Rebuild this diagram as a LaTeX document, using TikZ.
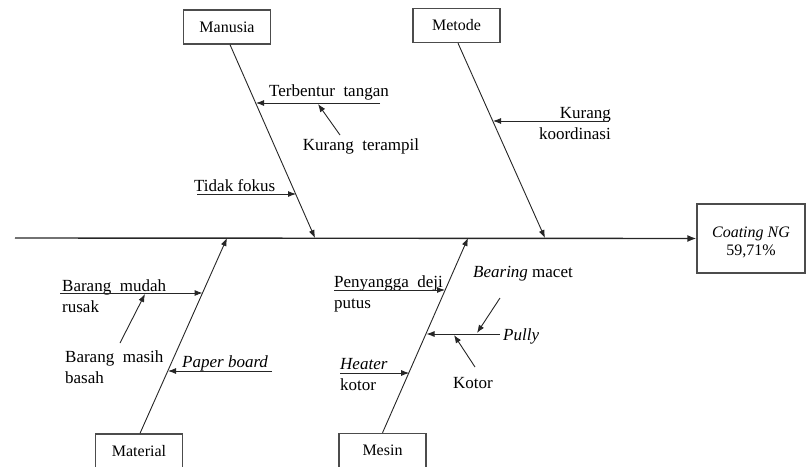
\documentclass[tikz,border=0pt]{standalone}
\usepackage{fontspec}
\setmainfont{Liberation Serif}
\usetikzlibrary{arrows.meta}

\begin{document}
\begin{tikzpicture}[x=1pt,y=-1pt,
  catbox/.style={draw=black!70, line width=1.3pt, minimum width=87pt,
    minimum height=34pt, inner sep=0pt, font=\fontsize{16}{18}\selectfont},
  spine/.style={line width=1.4pt, black!85, -{Latex[length=9pt,width=7pt]}},
  bone/.style={line width=0.9pt, black!85, -{Latex[length=8pt,width=6pt]}},
  cause/.style={line width=0.9pt, black!85, -{Latex[length=8pt,width=6pt]}},
  lbl/.style={inner sep=0pt, font=\fontsize{17}{21}\selectfont}]
\useasboundingbox (0,0) rectangle (806,466);

% category boxes and the effect box
\node[catbox] (manusia)  at (227,27)    {Manusia};
\node[catbox] (metode)   at (456.5,25.5) {Metode};
\node[catbox] (material) at (139,451)   {Material};
\node[catbox] (mesin)    at (382.5,450.5) {Mesin};
\node[catbox, minimum width=108pt, minimum height=69pt] (effect) at (751,238.5)
  {\raisebox{-9pt}[0pt][0pt]{\begin{tabular}{@{}c@{}}\textit{Coating NG}\\59,71\%\end{tabular}}};

% main spine
\coordinate (tail) at (15,238);
\draw[spine] (tail) -- (effect.west);

% bone ends on the spine
\coordinate (mtip) at (315,238);
\coordinate (ttip) at (545,238);
\coordinate (atip) at (227,238);
\coordinate (stip) at (468,238);

\draw[bone] ([xshift=3pt]manusia.south) -- (mtip);
\draw[bone] ([xshift=1.5pt]metode.south) -- (ttip);
\draw[bone] ([xshift=1pt]material.north) -- (atip);
\draw[bone] (mesin.north) -- (stip);

% cause labels
\node[lbl, anchor=base] (terbentur) at (329,96) {Terbentur\ \ tangan};
\node[lbl, anchor=base] (terampil) at (361,150) {Kurang\ \ terampil};
\node[lbl, anchor=base west] (fokus) at (194,191) {Tidak fokus};
\node[lbl, anchor=base east] (koord) at (611,118)
  {\begin{tabular}[t]{@{}r@{}}Kurang\\koordinasi\end{tabular}};
\node[lbl, anchor=base west] (mudah) at (62,291)
  {\begin{tabular}[t]{@{}l@{}}Barang\ \ mudah\\rusak\end{tabular}};
\node[lbl, anchor=base west] (masih) at (65,362)
  {\begin{tabular}[t]{@{}l@{}}Barang\ \ masih\\basah\end{tabular}};
\node[lbl, anchor=base west] (paper) at (182,367) {\textit{Paper board}};
\node[lbl, anchor=base west] (penyangga) at (334,287)
  {\begin{tabular}[t]{@{}l@{}}Penyangga\ \ deji\\putus\end{tabular}};
\node[lbl, anchor=base west] (bearing) at (473,277) {\textit{Bearing} macet};
\node[lbl, anchor=base west] (pully) at (503,340) {\textit{Pully}};
\node[lbl, anchor=base] (kotor) at (473,388) {Kotor};
\node[lbl, anchor=base west] (heater) at (340,369)
  {\begin{tabular}[t]{@{}l@{}}\textit{Heater}\\kotor\end{tabular}};

% arrow ends
\coordinate (a1s) at (380,103);   \coordinate (a1e) at (256,103);
\coordinate (a1bs) at (340,135);  \coordinate (a1be) at (318,104);
\coordinate (a2s) at (197,194);   \coordinate (a2e) at (296,194);
\coordinate (a3s) at (609,121);   \coordinate (a3e) at (493,121);
\coordinate (a4s) at (60,293);    \coordinate (a4e) at (202.6,293);
\coordinate (a4bs) at (120,343);  \coordinate (a4be) at (145,294);
\coordinate (a5s) at (272,371);   \coordinate (a5e) at (168,371);
\coordinate (a6s) at (334,290);   \coordinate (a6e) at (445,290);
\coordinate (a7s) at (500,334);   \coordinate (a7e) at (426.5,334);
\coordinate (a7as) at (500,298);  \coordinate (a7ae) at (477,333);
\coordinate (a7bs) at (475,367);  \coordinate (a7be) at (454,335);
\coordinate (a8s) at (340,373);   \coordinate (a8e) at (409.2,373);

\draw[cause] (a1s) -- (a1e);
\draw[cause] (a1bs) -- (a1be);
\draw[cause] (a2s) -- (a2e);
\draw[cause] (a3s) -- (a3e);
\draw[cause] (a4s) -- (a4e);
\draw[cause] (a4bs) -- (a4be);
\draw[cause] (a5s) -- (a5e);
\draw[cause] (a6s) -- (a6e);
\draw[cause] (a7s) -- (a7e);
\draw[cause] (a7as) -- (a7ae);
\draw[cause] (a7bs) -- (a7be);
\draw[cause] (a8s) -- (a8e);
\end{tikzpicture}
\end{document}
